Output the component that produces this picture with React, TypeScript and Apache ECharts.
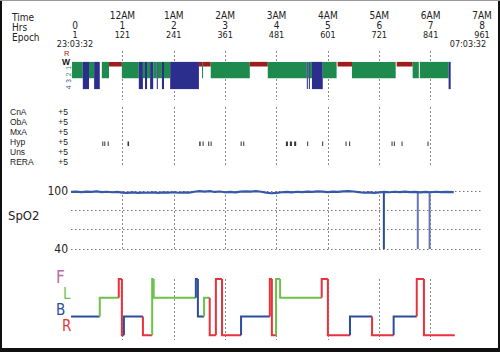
import { useEffect, useRef } from 'react';
import * as echarts from 'echarts';

// ---- header tick labels (one per hour, 0..8) ----
const timeLabels = ['', '12AM', '1AM', '2AM', '3AM', '4AM', '5AM', '6AM', '7AM'];
const hourLabels = ['0', '1', '2', '3', '4', '5', '6', '7', '8'];
const epochLabels = ['1', '121', '241', '361', '481', '601', '721', '841', '961'];
const clockLabels = ['23:03:32', '', '', '', '', '', '', '', '07:03:32'];

// ---- hypnogram (hours) ----
const hypStart = [0.02, 0.23, 0.35, 0.45, 0.6, 0.74, 0.99, 1.32, 1.4, 1.44, 1.48, 1.54, 1.6, 1.67, 1.69, 1.77, 1.81, 1.93, 2.49, 2.55, 2.57, 2.72, 3.48, 3.83, 4.59, 4.61, 4.63, 4.65, 4.69, 4.9, 5.19, 5.47, 6.34, 6.65, 6.79, 7.35];
const hypEnd = [0.23, 0.35, 0.45, 0.56, 0.74, 0.99, 1.32, 1.4, 1.44, 1.48, 1.54, 1.6, 1.67, 1.69, 1.77, 1.81, 1.93, 2.49, 2.55, 2.57, 2.72, 3.48, 3.83, 4.59, 4.61, 4.63, 4.65, 4.69, 4.9, 5.17, 5.47, 6.32, 6.65, 6.77, 7.35, 7.39];
const hypStage = ['S2', 'S4', 'S2', 'S4', 'S2', 'R', 'S2', 'S4', 'S2', 'S4', 'S2', 'S4', 'S2', 'S4', 'S2', 'S4', 'S2', 'S4', 'R', 'S2', 'R', 'S2', 'R', 'S2', 'S4', 'S2', 'S4', 'S2', 'S4', 'S2', 'R', 'S2', 'R', 'S2', 'S2', 'S4'];

// ---- respiratory events ----
const eventRows = ['CnA', 'ObA', 'MxA', 'Hyp', 'Uns', 'RERA'];
const eventCounts = ['+5', '+5', '+5', '+5', '+5', '+5'];
const eventStart = [0.609, 0.648, 0.714, 1.1, 2.496, 2.562, 2.671, 2.718, 3.302, 3.352, 4.183, 4.261, 4.344, 4.597, 4.889, 5.344, 5.414, 6.239, 6.284, 6.434, 6.94];
const eventEnd = [0.62, 0.66, 0.726, 1.13, 2.523, 2.574, 2.683, 2.73, 3.314, 3.364, 4.222, 4.3, 4.383, 4.609, 4.901, 5.356, 5.426, 6.251, 6.296, 6.446, 6.952];
const eventType = ['Hyp', 'Hyp', 'Hyp', 'Hyp', 'Hyp', 'Hyp', 'Hyp', 'Hyp', 'Hyp', 'Hyp', 'Hyp', 'Hyp', 'Hyp', 'Hyp', 'Hyp', 'Hyp', 'Hyp', 'Hyp', 'Hyp', 'Hyp', 'Hyp'];

// ---- SpO2 ----
const spo2Time = [0, 0.1, 0.2, 0.3, 0.4, 0.5, 0.6, 0.7, 0.8, 0.9, 1.0, 1.1, 1.2, 1.3, 1.4, 1.5, 1.6, 1.7, 1.8, 1.9, 2.0, 2.1, 2.2, 2.3, 2.4, 2.5, 2.6, 2.7, 2.8, 2.9, 3.0, 3.1, 3.2, 3.3, 3.4, 3.5, 3.6, 3.7, 3.8, 3.9, 4.0, 4.1, 4.2, 4.3, 4.4, 4.5, 4.6, 4.7, 4.8, 4.9, 5.0, 5.1, 5.2, 5.3, 5.4, 5.5, 5.6, 5.7, 5.8, 5.9, 6.0, 6.1, 6.2, 6.3, 6.4, 6.5, 6.6, 6.7, 6.8, 6.9, 7.0, 7.1, 7.2, 7.3, 7.45];
const spo2Value = [99.0, 99.4, 98.8, 99.3, 99.1, 99.6, 98.9, 99.2, 98.7, 99.1, 98.4, 98.1, 98.5, 98.0, 98.4, 98.2, 98.6, 98.1, 98.5, 98.3, 98.7, 98.2, 98.6, 98.4, 99.2, 99.8, 99.4, 99.8, 99.0, 99.5, 98.7, 99.1, 98.6, 99.3, 99.7, 99.4, 99.8, 99.2, 98.3, 97.7, 98.1, 98.7, 99.0, 98.6, 99.2, 98.8, 99.4, 99.1, 99.6, 99.3, 98.9, 99.4, 99.1, 99.7, 99.8, 99.5, 98.8, 98.2, 98.5, 98.1, 98.6, 99.0, 98.7, 99.2, 98.8, 99.3, 98.9, 99.1, 98.6, 99.0, 98.7, 99.2, 98.8, 99.1, 98.9];
const desatTime = [6.09, 6.75, 6.98];
const desatFrom = [98.8, 99.0, 98.8];
const desatNadir = [40, 40, 40];

// ---- body position ----
const posLevels = ['R', 'B', 'L', 'F'];
const posTime = [0, 0.56, 0.93, 0.99, 1.03, 1.4, 1.58, 1.61, 2.43, 2.47, 2.59, 2.7, 2.82, 2.94, 3.31, 3.87, 3.91, 3.99, 4.07, 4.88, 5.0, 5.43, 5.86, 6.28, 6.73, 6.87];
const posState = ['B', 'L', 'F', 'R', 'B', 'R', 'F', 'L', 'F', 'B', 'L', 'R', 'F', 'R', 'B', 'F', 'R', 'F', 'L', 'F', 'R', 'B', 'R', 'B', 'F', 'R'];
const posEnd = 7.47;

const FONT = '"Liberation Sans Narrow", "Arial Narrow", "DejaVu Sans Condensed", sans-serif';
const FONT2 = '"Liberation Sans", Arial, sans-serif';
const STAGE_COLOR: Record<string, string> = { R: '#9e1c1c', S2: '#1e8a4d', S4: '#2b2e8c' };
const STAGE_DEPTH: Record<string, number> = { R: 0.85, S2: 3, S4: 5 };
const POS_COLOR: Record<string, string> = { R: '#e8323c', B: '#2c4c9e', L: '#6cc24a', F: '#b46bb0' };

const GRID_LEFT = 71;
const GRID_RIGHT = 18;

function vLineAxis(gridIndex: number) {
  return {
    type: 'value', gridIndex, min: 0, max: 8, interval: 1,
    axisLine: { show: false }, axisTick: { show: false }, axisLabel: { show: false },
    splitLine: { show: true, showMinLine: false, showMaxLine: false, lineStyle: { color: '#8a8a8a', type: [2, 2], width: 1 } },
  };
}

function headerAxis(labels: string[], margin: number, rowKey: string, size: number) {
  return {
    type: 'value', gridIndex: 0, position: 'top', min: 0, max: 8, interval: 1,
    axisLine: { show: false }, axisTick: { show: false }, splitLine: { show: false },
    axisLabel: {
      show: true, margin, verticalAlign: 'middle', color: '#222', fontSize: size, fontFamily: FONT,
      showMinLabel: true, showMaxLabel: true, hideOverlap: false,
      formatter: (v: number) => {
        const i = Math.round(v);
        const t = labels[i] ?? '';
        if (!t) return '';
        if (i === 0 && rowKey !== 'time') return `{s|${t}}`;
        if (i === 8 && rowKey === 'clock') return `{e|${t}}`;
        return t;
      },
      rich: {
        s: { fontSize: size, fontFamily: FONT, color: '#222', padding: [0, 0, 0, 8] },
        e: { fontSize: size, fontFamily: FONT, color: '#222', padding: [0, 28, 0, 0] },
      },
    },
  };
}

export default function App() {
  const ref = useRef<HTMLDivElement>(null);
  useEffect(() => {
    document.body.style.margin = '0';
    if (!ref.current) return;
    const chart = echarts.init(ref.current, null, { renderer: 'svg' });

    const hypData = hypStart.map((s, i) => [s, hypEnd[i], STAGE_DEPTH[hypStage[i]]]);
    const evData = eventStart.map((s, i) => [s, eventEnd[i], eventRows.indexOf(eventType[i])]);
    const spo2Data = spo2Time.map((t, i) => [t, spo2Value[i]]);
    const desatData = desatTime.map((t, i) => [t, desatFrom[i], desatNadir[i]]);
    const posData = posTime.map((t, i) => [t, posLevels.indexOf(posState[i])]);

    const option: any = {
      animation: false,
      backgroundColor: '#fff',
      grid: [
        { left: GRID_LEFT, right: GRID_RIGHT, top: 51, height: 49, outerBoundsMode: 'none' },
        { left: GRID_LEFT, right: GRID_RIGHT, top: 107, height: 60, outerBoundsMode: 'none' },
        { left: GRID_LEFT, right: GRID_RIGHT, top: 191, height: 58, outerBoundsMode: 'none' },
        { left: GRID_LEFT, right: GRID_RIGHT, top: 279, height: 61, outerBoundsMode: 'none' },
      ],
      xAxis: [
        vLineAxis(0), vLineAxis(1), vLineAxis(2), vLineAxis(3),
        headerAxis(timeLabels, 36, 'time', 10),
        headerAxis(hourLabels, 26, 'hrs', 10),
        headerAxis(epochLabels, 16, 'epoch', 9),
        headerAxis(clockLabels, 7.5, 'clock', 9),
      ],
      yAxis: [
        { type: 'value', gridIndex: 0, inverse: true, min: -2, max: 7, show: false },
        {
          type: 'category', gridIndex: 1, data: eventRows, inverse: true, position: 'left',
          axisLine: { show: false }, axisTick: { show: false }, splitLine: { show: false },
          axisLabel: { interval: 0, margin: 61, align: 'left', color: '#222', fontSize: 8.5, fontFamily: FONT2 },
        },
        { type: 'value', gridIndex: 2, min: 40, max: 100, interval: 20,
          axisLine: { show: false }, axisTick: { show: false },
          splitLine: { show: true, lineStyle: { color: '#777', type: [1.5, 2.5], width: 1 } },
          axisLabel: { margin: 3, color: '#222', fontSize: 12, fontFamily: FONT,
            formatter: (v: number) => (v === 100 || v === 40 ? String(v) : '') } },
        { type: 'value', gridIndex: 3, min: -0.25, max: 3, show: false },
        {
          type: 'category', gridIndex: 1, data: eventRows, inverse: true, position: 'left',
          axisLine: { show: false }, axisTick: { show: false }, splitLine: { show: false },
          axisLabel: { interval: 0, margin: 3, color: '#222', fontSize: 8.5, fontFamily: FONT2, padding: [0, 0, 4, 0],
            formatter: (_v: string, i: number) => eventCounts[i] },
        },
      ],
      series: [
        {
          type: 'custom', xAxisIndex: 0, yAxisIndex: 0, data: hypData, encode: { x: [0, 1], y: 2 },
          renderItem: (params: any, api: any) => {
            const p0 = api.coord([api.value(0), 0]);
            const p1 = api.coord([api.value(1), api.value(2)]);
            return {
              type: 'rect',
              shape: { x: p0[0], y: p0[1], width: Math.max(p1[0] - p0[0], 1), height: p1[1] - p0[1] },
              style: { fill: STAGE_COLOR[hypStage[params.dataIndex]] },
            };
          },
        },
        {
          type: 'custom', xAxisIndex: 1, yAxisIndex: 1, data: evData, encode: { x: [0, 1], y: 2 },
          renderItem: (_params: any, api: any) => {
            const p0 = api.coord([api.value(0), api.value(2)]);
            const p1 = api.coord([api.value(1), api.value(2)]);
            return {
              type: 'rect',
              shape: { x: p0[0], y: p0[1] - 0.5, width: Math.max(p1[0] - p0[0], 1), height: 4.5 },
              style: { fill: '#333' },
            };
          },
        },
        {
          type: 'line', xAxisIndex: 2, yAxisIndex: 2, data: spo2Data, showSymbol: false, clip: false,
          lineStyle: { color: '#3558a8', width: 2.2 },
        },
        {
          type: 'custom', xAxisIndex: 2, yAxisIndex: 2, data: desatData, encode: { x: 0, y: [1, 2] },
          renderItem: (params: any, api: any) => {
            const a = api.coord([api.value(0), api.value(1)]);
            const b = api.coord([api.value(0), api.value(2)]);
            return {
              type: 'line', shape: { x1: a[0], y1: a[1], x2: b[0], y2: b[1] },
              style: { stroke: params.dataIndex === 0 ? '#2c4a9a' : '#6478b4', lineWidth: 2 },
            };
          },
        },
        {
          type: 'custom', xAxisIndex: 3, yAxisIndex: 3, data: posData, encode: { x: 0, y: 1 },
          renderItem: (params: any, api: any) => {
            const i = params.dataIndex;
            const lev = api.value(1);
            const prev = i > 0 ? posLevels.indexOf(posState[i - 1]) : lev;
            const t0 = api.value(0);
            const t1 = i + 1 < posTime.length ? posTime[i + 1] : posEnd;
            const a = api.coord([t0, prev]);
            const b = api.coord([t0, lev]);
            const c = api.coord([t1, lev]);
            const key = posState[i] === 'F' && i + 1 < posState.length ? posState[i + 1] : posState[i];
            return {
              type: 'polyline', shape: { points: [a, b, c] },
              style: { stroke: POS_COLOR[key], lineWidth: 2, fill: 'none' },
            };
          },
        },
      ],
      graphic: [
        { type: 'text', left: 12, top: 12, style: { text: 'Time', fontSize: 10, fontFamily: FONT, fill: '#222' } },
        { type: 'text', left: 12, top: 22, style: { text: 'Hrs', fontSize: 10, fontFamily: FONT, fill: '#222' } },
        { type: 'text', left: 12, top: 32, style: { text: 'Epoch', fontSize: 10, fontFamily: FONT, fill: '#222' } },
        { type: 'text', left: 64, top: 49, style: { text: 'R', fontSize: 7.5, fontFamily: FONT2, fill: '#9e1c1c' } },
        { type: 'text', left: 62, top: 57, style: { text: 'W', fontSize: 8.5, fontFamily: FONT2, fill: '#111', fontWeight: 'bold' } },
        { type: 'text', x: 68, y: 68, rotation: Math.PI / 2, style: { text: '1', fontSize: 6.5, fontFamily: FONT2, fill: '#1e8a4d', align: 'center', verticalAlign: 'middle' } },
        { type: 'text', x: 68, y: 74.5, rotation: Math.PI / 2, style: { text: '2', fontSize: 6.5, fontFamily: FONT2, fill: '#1e8a4d', align: 'center', verticalAlign: 'middle' } },
        { type: 'text', x: 68, y: 81, rotation: Math.PI / 2, style: { text: '3', fontSize: 6.5, fontFamily: FONT2, fill: '#2b4c9e', align: 'center', verticalAlign: 'middle' } },
        { type: 'text', x: 68, y: 87.5, rotation: Math.PI / 2, style: { text: '4', fontSize: 6.5, fontFamily: FONT2, fill: '#2b4c9e', align: 'center', verticalAlign: 'middle' } },
        { type: 'text', left: 8, top: 209, style: { text: 'SpO2', fontSize: 13, fontFamily: FONT, fill: '#222' } },
        { type: 'text', left: 56, top: 268, style: { text: 'F', fontSize: 17, fontFamily: FONT, fill: '#b86aa8' } },
        { type: 'text', left: 63, top: 286, style: { text: 'L', fontSize: 15, fontFamily: FONT, fill: '#6cc24a' } },
        { type: 'text', left: 56, top: 302, style: { text: 'B', fontSize: 15, fontFamily: FONT, fill: '#2c4c9e' } },
        { type: 'text', left: 62, top: 318, style: { text: 'R', fontSize: 15, fontFamily: FONT, fill: '#e8323c' } },
        { type: 'rect', left: 0, top: 0, shape: { width: 2, height: 352 }, style: { fill: '#111' } },
        { type: 'rect', right: 0, top: 0, shape: { width: 2, height: 352 }, style: { fill: '#111' } },
        { type: 'rect', left: 0, bottom: 0, shape: { width: 500, height: 4 }, style: { fill: '#111' } },
        { type: 'rect', left: 0, top: 0, shape: { width: 500, height: 1 }, style: { fill: '#999' } },
      ],
    };
    chart.setOption(option);
    return () => chart.dispose();
  }, []);
  return <div ref={ref} style={{ width: 500, height: 352 }} />;
}
